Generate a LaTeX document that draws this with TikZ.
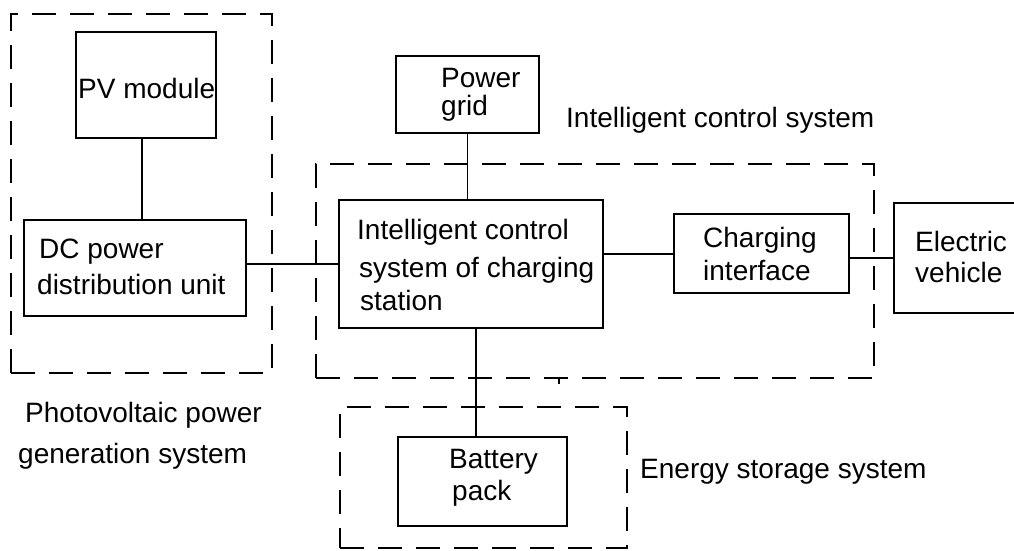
\documentclass[tikz,border=0pt]{standalone}
\usepackage{fontspec}
\setmainfont{Liberation Sans}
\begin{document}
\begin{tikzpicture}[x=1pt,y=-1pt,
  box/.style={draw, line width=1.5pt, inner sep=0pt, anchor=north west},
  grp/.style={draw, line width=1.5pt, dash pattern=on 24pt off 14pt, inner sep=0pt, anchor=north west},
  lbl/.style={font=\fontsize{28}{34}\selectfont, inner sep=0pt, anchor=base west},
  wire/.style={line width=1.5pt}]
\useasboundingbox (0,0) rectangle (1014,550);
\fill[white] (0,0) rectangle (1014,550);

% group outlines
\node[grp, minimum width=261pt, minimum height=359pt] (gpv) at (10,13) {};
\node[grp, minimum width=558pt, minimum height=214pt] (gics) at (315,163) {};
\node[grp, minimum width=287pt, minimum height=141pt] (gbat) at (339,406) {};

% boxes
\node[box, minimum width=140pt, minimum height=106pt] (pv) at (75,31) {};
\node[box, minimum width=222pt, minimum height=96pt] (dc) at (23,219) {};
\node[box, minimum width=143pt, minimum height=77pt] (grid) at (395,55) {};
\node[box, minimum width=264pt, minimum height=128pt] (ics) at (338,199) {};
\node[box, minimum width=175pt, minimum height=79pt] (chg) at (673,213) {};
\node[box, minimum width=150pt, minimum height=110pt] (ev) at (893,202) {};
\node[box, minimum width=169pt, minimum height=89pt] (bat) at (397,436) {};

% connectors
\draw[wire] ([xshift=-4pt]pv.south) -- ([xshift=-4pt]pv.south |- dc.north);
\draw[wire] (dc.east |- ics.west) -- (ics.west);
\draw[wire] (grid.south) -- (grid.south |- ics.north);
\draw[wire] ([yshift=-0.5pt]ics.east |- chg.west) -- ([yshift=-0.5pt]chg.west);
\draw[wire] (ev.west -| chg.east) -- (ev.west);
\draw[wire] ([xshift=5pt]ics.south) -- ([xshift=5pt]ics.south |- bat.north);
\coordinate (tk1) at (559,377);
\coordinate (tk2) at (559,384);
\draw[line width=1.2pt] (tk1) -- (tk2);

% texts
\node[lbl] (tpv) at (78,98) {PV module};
\node[lbl] (tdc1) at (39,258) {DC power};
\node[lbl] (tdc2) at (37,294) {distribution unit};
\node[lbl] (tpvs1) at (25,422) {Photovoltaic power};
\node[lbl] (tpvs2) at (18,463) {generation system};
\node[lbl] (tgr1) at (441,87) {Power};
\node[lbl] (tgr2) at (441,115) {grid};
\node[lbl] (tics) at (566,127) {Intelligent control system};
\node[lbl] (ti1) at (357,239) {Intelligent control};
\node[lbl] (ti2) at (359,277) {system of charging};
\node[lbl] (ti3) at (360,310) {station};
\node[lbl] (tc1) at (703,247) {Charging};
\node[lbl] (tc2) at (703,280) {interface};
\node[lbl] (te1) at (915,251) {Electric};
\node[lbl] (te2) at (915,282) {vehicle};
\node[lbl] (tb1) at (449,468) {Battery};
\node[lbl] (tb2) at (452,500) {pack};
\node[lbl] (tes) at (640,478) {Energy storage system};
\end{tikzpicture}
\end{document}
